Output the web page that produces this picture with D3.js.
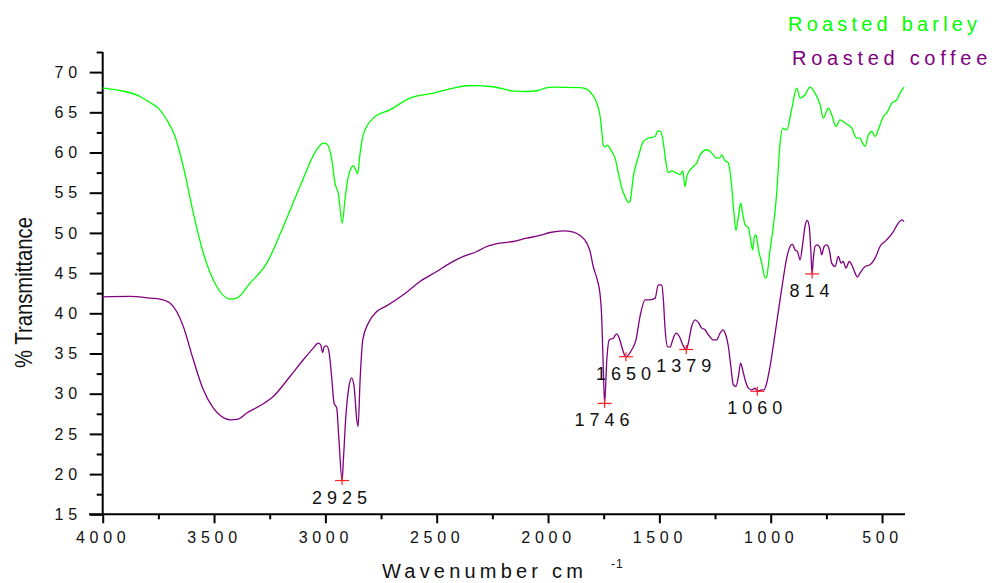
<!DOCTYPE html>
<html>
<head>
<meta charset="utf-8">
<script src="https://cdn.jsdelivr.net/npm/d3@7"></script>
<style>
  body { margin: 0; background: #fff; }
  svg { display: block; font-family: Arial, "Liberation Sans", sans-serif; }
</style>
</head>
<body>
<svg id="chart" width="992" height="583"></svg>
<script>
// FTIR spectra: wavenumber (cm-1) and % transmittance
const barleyWn = [4000,3922,3832,3788,3746,3713,3675,3638,3593,3548,3488,3428,3398,3338,3263,3189,3114,3039,3009,2994,2971,2957,2942,2924,2912,2897,2874,2864,2855,2844,2830,2785,2710,2620,2515,2425,2365,2320,2260,2201,2156,2096,2044,2014,1976,1856,1826,1804,1781,1766,1759,1752,1744,1734,1722,1714,1699,1684,1669,1654,1639,1632,1617,1594,1572,1550,1519,1507,1494,1482,1470,1460,1444,1422,1407,1395,1385,1377,1362,1347,1332,1317,1287,1265,1242,1231,1220,1208,1190,1175,1165,1156,1145,1135,1126,1115,1100,1090,1081,1073,1066,1055,1040,1025,1018,1003,988,973,958,946,928,905,883,868,846,823,801,778,764,741,726,707,689,666,636,614,599,587,576,561,546,531,517,494,479,456,434,419,401];
const barleyT = [68.01,67.71,66.97,66.22,65.40,64.10,61.99,58.26,52.46,47.49,43.33,41.77,41.89,43.76,46.24,50.80,55.77,60.34,61.17,61.08,59.09,56.19,54.95,51.22,54.12,57.01,58.35,57.85,57.35,59.93,62.20,64.28,65.31,66.77,67.39,68.01,68.30,68.33,68.21,67.92,67.64,67.59,67.71,68.01,68.13,68.08,67.89,67.30,66.14,64.48,62.82,60.96,60.67,60.92,60.55,60.12,59.30,57.44,55.57,54.53,53.78,53.91,57.01,59.50,61.37,61.79,61.99,62.70,62.61,61.17,58.68,57.51,57.72,57.44,57.23,57.72,55.77,57.01,57.85,58.26,58.68,59.71,60.34,59.93,59.30,59.30,59.71,59.09,58.68,55.77,52.46,50.30,52.04,53.71,52.46,51.01,50.60,49.14,47.90,49.55,49.76,47.90,46.24,44.38,44.58,47.90,50.80,54.95,61.17,63.03,62.82,65.52,68.01,66.77,67.18,68.13,67.39,65.93,64.28,65.52,64.69,63.23,64.07,63.66,63.03,61.79,61.79,61.17,60.75,62.20,62.61,61.99,62.82,64.48,64.90,66.14,66.55,67.39,68.13];

const coffeeWn = [4000,3877,3788,3743,3698,3668,3638,3593,3548,3503,3466,3428,3391,3353,3294,3234,3159,3099,3054,3032,3021,3012,3005,2994,2984,2972,2961,2949,2939,2925,2919,2909,2894,2882,2871,2859,2853,2844,2832,2807,2769,2725,2650,2575,2500,2440,2380,2320,2275,2216,2156,2096,2036,1991,1931,1886,1856,1826,1811,1797,1779,1767,1759,1752,1746,1736,1725,1707,1692,1680,1669,1658,1650,1624,1605,1587,1564,1542,1519,1505,1489,1482,1475,1464,1452,1440,1425,1410,1395,1379,1370,1355,1340,1325,1310,1295,1280,1258,1242,1231,1215,1202,1190,1179,1168,1156,1145,1135,1126,1115,1100,1085,1070,1060,1040,1030,1018,1003,980,958,943,928,913,903,891,880,868,856,846,836,827,820,814,809,801,791,778,771,760,748,737,726,711,696,684,674,662,647,636,621,611,599,576,554,531,509,479,449,427,411,401];
const coffeeT = [42.05,42.11,41.89,41.77,41.27,40.22,38.36,34.22,30.48,28.21,27.16,26.75,26.84,27.59,28.50,29.65,32.14,34.22,35.67,36.29,36.08,35.12,35.87,35.96,35.25,32.14,28.83,28.21,24.27,19.20,21.78,26.75,30.90,31.94,30.90,26.75,25.92,31.73,36.70,38.78,40.22,40.93,42.30,43.95,45.20,46.24,47.07,47.69,48.31,48.73,48.93,49.35,49.68,50.05,50.26,50.10,49.68,48.73,47.69,45.82,44.17,42.51,39.60,33.38,28.80,34.22,36.70,36.91,37.45,36.91,35.87,34.90,34.60,35.46,36.70,39.60,41.68,41.68,41.89,43.54,43.54,41.68,38.36,35.87,35.80,36.70,37.54,37.11,36.08,35.50,36.29,38.36,39.19,38.86,38.16,37.95,37.33,36.70,36.70,37.33,37.95,37.33,35.87,33.38,31.11,30.90,32.14,33.81,32.97,31.73,30.70,30.48,30.70,30.30,30.48,30.48,31.32,33.38,37.54,41.68,44.42,46.90,48.31,48.61,47.90,47.69,46.65,48.73,50.80,51.54,50.80,47.90,44.90,46.65,48.31,48.52,48.11,47.28,48.31,48.52,47.90,46.24,45.82,47.07,46.24,46.44,45.62,46.44,46.03,45.00,44.50,45.00,45.82,46.03,46.86,48.31,49.14,50.17,51.22,51.63,51.41];

// marked absorption bands on the coffee spectrum
const peakWn = [2925, 1746, 1650, 1379, 1060, 814];
const peakT  = [19.2, 28.8, 34.6, 35.5, 30.3, 44.9];

const xTicks = [4000, 3500, 3000, 2500, 2000, 1500, 1000, 500];
const xMinor = [3750, 3250, 2750, 2250, 1750, 1250, 750];
const yTicks = [15, 20, 25, 30, 35, 40, 45, 50, 55, 60, 65, 70];
const yMinor = [17.5, 22.5, 27.5, 32.5, 37.5, 42.5, 47.5, 52.5, 57.5, 62.5, 67.5, 72.5];

const seriesNames = ["Roasted barley", "Roasted coffee"];
const seriesColors = ["#00ff00", "#800080"];

const svg = d3.select("#chart");
const x = d3.scaleLinear().domain([4000, 400]).range([102.7, 904.3]);
const y = d3.scaleLinear().domain([15, 72.5]).range([514.3, 52]);
const fmt = d3.format("d");

// axes
const gx = svg.append("g").attr("transform", `translate(0,${y(15)})`);
gx.call(d3.axisBottom(x).tickValues(xTicks).tickFormat(fmt).tickSize(9).tickPadding(8).tickSizeOuter(0));
gx.call(g => g.append("g").call(d3.axisBottom(x).tickValues(xMinor).tickSize(5).tickFormat("").tickSizeOuter(0)));
gx.selectAll(".domain").remove();
gx.append("line").attr("x1", 89).attr("x2", 905).attr("y1", 0).attr("y2", 0)
  .attr("stroke", "#000").attr("stroke-width", 2);
gx.selectAll(".tick line").attr("stroke", "#000").attr("stroke-width", 2);
gx.selectAll(".tick text").attr("fill", "#111").style("font-size", "16px")
  .style("letter-spacing", "4.7px").style("font-family", "Arial, 'Liberation Sans', sans-serif");

const gy = svg.append("g").attr("transform", `translate(${x(4000)},0)`);
gy.call(d3.axisLeft(y).tickValues(yTicks).tickFormat(fmt).tickSize(13).tickPadding(7.5).tickSizeOuter(0));
gy.call(g => g.append("g").call(d3.axisLeft(y).tickValues(yMinor).tickSize(6).tickFormat("").tickSizeOuter(0)));
gy.selectAll(".domain").remove();
gy.append("line").attr("x1", 0).attr("x2", 0).attr("y1", y(72.5)).attr("y2", y(15) + 1)
  .attr("stroke", "#000").attr("stroke-width", 2);
gy.selectAll(".tick line").attr("stroke", "#000").attr("stroke-width", 2);
gy.selectAll(".tick text").attr("fill", "#111").style("font-size", "16px")
  .style("letter-spacing", "5px").style("font-family", "Arial, 'Liberation Sans', sans-serif");

// spectra
const line = d3.line().x(d => x(d[0])).y(d => y(d[1])).curve(d3.curveMonotoneX);
const series = [
  d3.zip(barleyWn, barleyT),
  d3.zip(coffeeWn, coffeeT)
];
series.forEach((s, i) => {
  svg.append("path").datum(s).attr("d", line)
    .attr("fill", "none").attr("stroke", seriesColors[i]).attr("stroke-width", 1.3)
    .attr("stroke-linejoin", "round");
});

// peak markers and labels
const peaks = svg.append("g");
peakWn.forEach((wn, i) => {
  const px = x(wn), py = y(peakT[i]);
  peaks.append("line").attr("x1", px - 7).attr("x2", px + 7).attr("y1", py).attr("y2", py)
    .attr("stroke", "#ff2020").attr("stroke-width", 1.2);
  peaks.append("line").attr("x1", px).attr("x2", px).attr("y1", py - 4.5).attr("y2", py + 4.5)
    .attr("stroke", "#ff2020").attr("stroke-width", 1.2);
  peaks.append("text").attr("x", px).attr("y", py + 23)
    .attr("text-anchor", "middle").attr("fill", "#111")
    .style("font-size", "18px").style("letter-spacing", "5px")
    .text(wn);
});

// legend
svg.append("text").attr("x", 788).attr("y", 31).attr("fill", seriesColors[0])
  .style("font-size", "20px").style("letter-spacing", "4.2px").text(seriesNames[0]);
svg.append("text").attr("x", 792).attr("y", 65).attr("fill", seriesColors[1])
  .style("font-size", "20px").style("letter-spacing", "4.7px").text(seriesNames[1]);

// axis titles
svg.append("text").attr("x", 382).attr("y", 578).attr("fill", "#111")
  .style("font-size", "20px").style("letter-spacing", "4.2px").text("Wavenumber cm");
svg.append("text").attr("x", 611).attr("y", 568).attr("fill", "#111")
  .style("font-size", "12px").style("letter-spacing", "1px").text("-1");

svg.append("text").attr("transform", "rotate(-90)")
  .attr("x", -292.5).attr("y", 32).attr("text-anchor", "middle").attr("fill", "#111")
  .attr("textLength", 151).attr("lengthAdjust", "spacingAndGlyphs")
  .style("font-size", "24px").text("% Transmittance");
</script>
</body>
</html>
